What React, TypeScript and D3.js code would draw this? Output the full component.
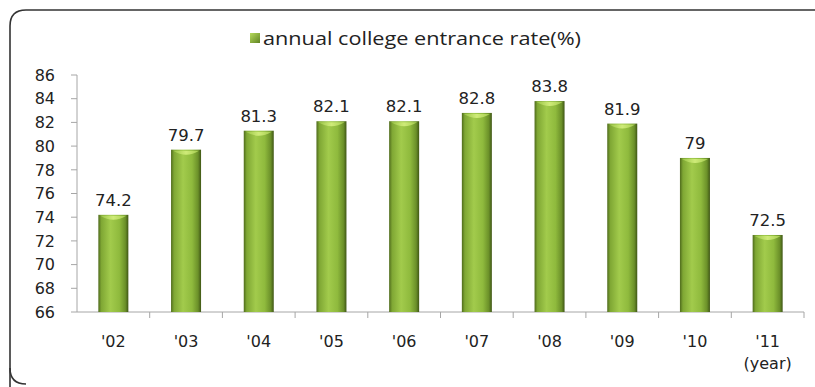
import React from "react";
import * as d3 from "d3";

const years = ["'02", "'03", "'04", "'05", "'06", "'07", "'08", "'09", "'10", "'11"];
const rates = [74.2, 79.7, 81.3, 82.1, 82.1, 82.8, 83.8, 81.9, 79, 72.5];
const yTicks = [66, 68, 70, 72, 74, 76, 78, 80, 82, 84, 86];
const legendLabel = "annual college entrance rate(%)";

const W = 815, H = 387;
const margin = { left: 77, right: 11, top: 75, bottom: 75 };

export default function App() {
  const x = d3.scaleBand<string>().domain(years).range([margin.left, W - margin.right]).paddingInner(0).paddingOuter(0);
  const y = d3.scaleLinear().domain([66, 86]).range([H - margin.bottom, margin.top]);
  const bw = 30;
  const numFont = "'DejaVu Sans', Verdana, sans-serif";
  const txtFont = "'Open Sans', Lato, sans-serif";
  return (
    <svg width={W} height={H} style={{ position: "absolute", left: 0, top: 0, background: "#fff" }}>
      <defs>
        <linearGradient id="barg" x1="0" x2="1" y1="0" y2="0">
          <stop offset="0" stopColor="#4f6b1c" />
          <stop offset="0.1" stopColor="#7fa734" />
          <stop offset="0.4" stopColor="#a2cb4c" />
          <stop offset="0.7" stopColor="#8fba3d" />
          <stop offset="0.9" stopColor="#6b9029" />
          <stop offset="1" stopColor="#3f5615" />
        </linearGradient>
        <linearGradient id="capg" x1="0" x2="1" y1="0" y2="0">
          <stop offset="0" stopColor="#9cc748" />
          <stop offset="0.5" stopColor="#d4ef7e" />
          <stop offset="1" stopColor="#a9d052" />
        </linearGradient>
        <linearGradient id="legg" x1="0" x2="1" y1="0" y2="1">
          <stop offset="0" stopColor="#b6da5c" />
          <stop offset="1" stopColor="#5f8322" />
        </linearGradient>
      </defs>
      <path
        d={`M 10 ${H + 5} L 10 26 Q 10 10 26 10 L ${W + 10} 10`}
        fill="none" stroke="#333" strokeWidth={1.6}
      />
      <path d={`M 10 368 Q 10 384 26 384`} fill="none" stroke="#333" strokeWidth={1.6} />
      {/* legend */}
      <rect x={250} y={33} width={10} height={10} fill="url(#legg)" />
      <text x={263} y={45} fontFamily={txtFont} fontSize={19} fill="#222" textLength={318} lengthAdjust="spacingAndGlyphs">{legendLabel}</text>
      {/* y axis */}
      <line x1={margin.left} x2={margin.left} y1={y(86)} y2={y(66)} stroke="#a6a6a6" />
      {yTicks.map((t) => (
        <g key={t}>
          <line x1={margin.left - 6} x2={margin.left} y1={y(t)} y2={y(t)} stroke="#a6a6a6" />
          <text x={55} y={y(t)} dy="0.36em" textAnchor="end" fontFamily={numFont} fontSize={16} fill="#222">{t}</text>
        </g>
      ))}
      {/* x axis */}
      <line x1={margin.left} x2={W - margin.right} y1={y(66)} y2={y(66)} stroke="#a6a6a6" />
      {years.map((yr, i) => (
        <line key={"t" + i} x1={(x(yr) as number) + x.bandwidth()} x2={(x(yr) as number) + x.bandwidth()} y1={y(66)} y2={y(66) + 6} stroke="#a6a6a6" />
      ))}
      {years.map((yr, i) => {
        const cx = (x(yr) as number) + x.bandwidth() / 2;
        const top = y(rates[i]);
        const bottom = y(66);
        return (
          <g key={yr}>
            <rect x={cx - bw / 2} y={top} width={bw} height={bottom - top} fill="url(#barg)" />
            <path d={`M ${cx - bw / 2 + 2} ${top + 1} Q ${cx} ${top + 9} ${cx + bw / 2 - 2} ${top + 1} Z`} fill="url(#capg)" opacity={0.9} />
            <text x={cx} y={top - 9} textAnchor="middle" fontFamily={numFont} fontSize={16.5} fill="#222">{rates[i]}</text>
            <text x={cx} y={y(66) + 35} textAnchor="middle" fontFamily={numFont} fontSize={16} fill="#222">{yr}</text>
          </g>
        );
      })}
      <text x={(x(years[9]) as number) + x.bandwidth() / 2} y={y(66) + 57} textAnchor="middle" fontFamily={numFont} fontSize={16} fill="#222">(year)</text>
    </svg>
  );
}
